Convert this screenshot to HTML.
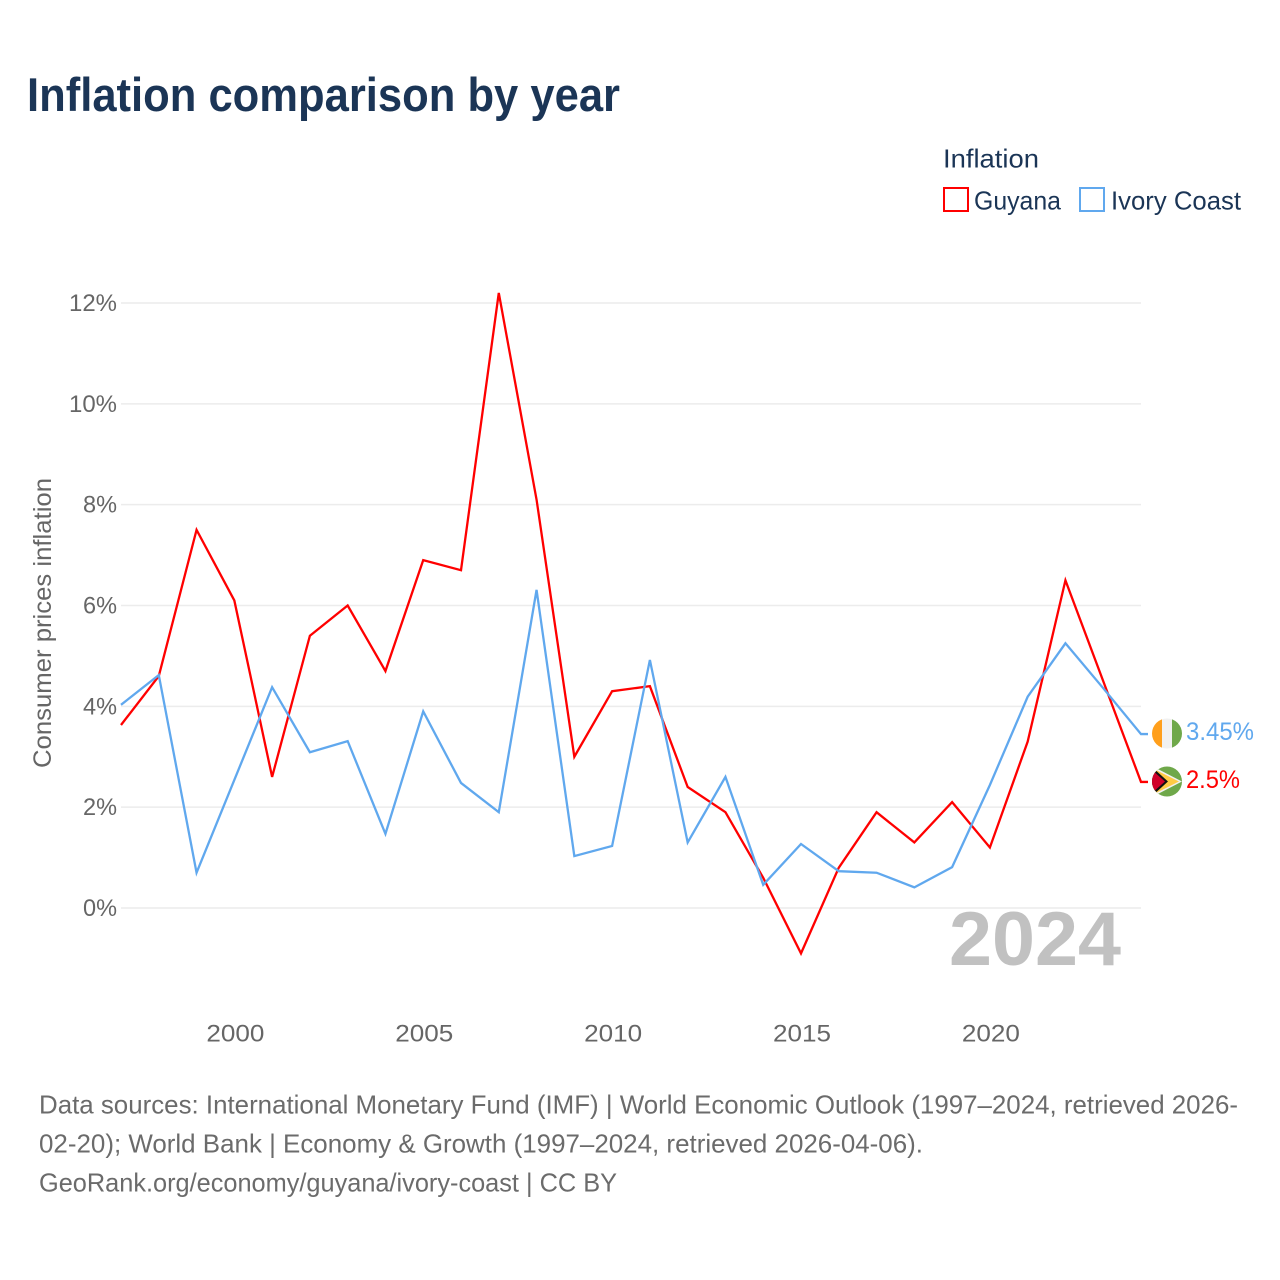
<!DOCTYPE html>
<html lang="en">
<head>
<meta charset="utf-8">
<title>Inflation comparison by year</title>
<style>
html,body{margin:0;padding:0;background:#fff;}
svg{display:block;font-family:"Liberation Sans",sans-serif;}
</style>
</head>
<body>
<svg id="chart" width="1280" height="1280" viewBox="0 0 1280 1280" xmlns="http://www.w3.org/2000/svg">
  <rect width="1280" height="1280" fill="#fff"/>
  <text x="27" y="111" font-size="47" font-weight="700" fill="#1b3556" textLength="593" lengthAdjust="spacingAndGlyphs">Inflation comparison by year</text>
  <text x="943" y="167.5" font-size="26" fill="#1b3556" textLength="96" lengthAdjust="spacingAndGlyphs">Inflation</text>
  <rect x="944" y="188" width="24" height="23" fill="none" stroke="#ff0000" stroke-width="2"/>
  <text x="974" y="209.5" font-size="26" fill="#1b3556" textLength="87" lengthAdjust="spacingAndGlyphs">Guyana</text>
  <rect x="1080" y="188" width="24" height="23" fill="none" stroke="#60a8ee" stroke-width="2"/>
  <text x="1111" y="209.5" font-size="26" fill="#1b3556" textLength="130" lengthAdjust="spacingAndGlyphs">Ivory Coast</text>
  <text transform="translate(51,768) rotate(-90)" x="0" y="0" font-size="25" fill="#666" textLength="290" lengthAdjust="spacingAndGlyphs">Consumer prices inflation</text>
  <g id="grid"></g>
  <g id="yticks"></g>
  <g id="xticks"></g>
  <text x="949" y="965" font-size="76" font-weight="700" fill="#c1c1c1" textLength="172" lengthAdjust="spacingAndGlyphs">2024</text>
  <g id="series"></g>
  <defs>
    <clipPath id="clip-ci"><circle cx="1167" cy="733.5" r="15"/></clipPath>
    <clipPath id="clip-gy"><circle cx="1167" cy="781.5" r="15"/></clipPath>
  </defs>
  <g clip-path="url(#clip-ci)">
    <rect x="1152" y="718" width="10" height="31" fill="#ff9f1c"/>
    <rect x="1162" y="718" width="10" height="31" fill="#f1f1f1"/>
    <rect x="1172" y="718" width="10" height="31" fill="#6fa84a"/>
  </g>
  <g clip-path="url(#clip-gy)">
    <rect x="1152" y="766" width="30" height="31" fill="#6fa84a"/>
    <polygon points="1152,766 1182,781.5 1152,797" fill="#f1f1f1"/>
    <polygon points="1152,768 1179,781.5 1152,795" fill="#ffcb45"/>
    <polygon points="1152,767 1168,781.5 1152,796" fill="#111"/>
    <polygon points="1152,770 1165,781.5 1152,793" fill="#d0002a"/>
  </g>
  <text x="1186" y="740" font-size="25" fill="#60a8ee" textLength="68" lengthAdjust="spacingAndGlyphs">3.45%</text>
  <text x="1186" y="788" font-size="25" fill="#ff0000" textLength="54" lengthAdjust="spacingAndGlyphs">2.5%</text>
  <text x="39" y="1113.5" font-size="26" fill="#6b6b6b" textLength="1199" lengthAdjust="spacingAndGlyphs">Data sources: International Monetary Fund (IMF) | World Economic Outlook (1997–2024, retrieved 2026-</text>
  <text x="39" y="1152.5" font-size="26" fill="#6b6b6b" textLength="884" lengthAdjust="spacingAndGlyphs">02-20); World Bank | Economy &amp; Growth (1997–2024, retrieved 2026-04-06).</text>
  <text x="39" y="1191.5" font-size="26" fill="#6b6b6b" textLength="578" lengthAdjust="spacingAndGlyphs">GeoRank.org/economy/guyana/ivory-coast | CC BY</text>
</svg>
<script>
const years = [1997,1998,1999,2000,2001,2002,2003,2004,2005,2006,2007,2008,2009,2010,2011,2012,2013,2014,2015,2016,2017,2018,2019,2020,2021,2022,2023,2024];
const guyana = [3.63,4.6,7.5,6.1,2.6,5.4,6.0,4.7,6.9,6.7,12.2,8.1,3.0,4.3,4.4,2.4,1.9,0.6,-0.9,0.8,1.9,1.3,2.1,1.2,3.3,6.5,4.5,2.5];
const ivoryCoast = [4.03,4.62,0.7,2.54,4.38,3.09,3.31,1.47,3.9,2.48,1.9,6.31,1.03,1.23,4.92,1.3,2.6,0.46,1.27,0.73,0.7,0.41,0.81,2.44,4.19,5.25,4.36,3.45];
const yTickValues = [0,2,4,6,8,10,12];
const xTickValues = [2000,2005,2010,2015,2020];

const NS = 'http://www.w3.org/2000/svg';
function xScale(year) { return 121 + (year - 1997) * (1020 / 27); }
function yScale(v) { return 908 - v * (605 / 12); }

const grid = document.getElementById('grid');
const yticks = document.getElementById('yticks');
const xticks = document.getElementById('xticks');
const seriesGroup = document.getElementById('series');

yTickValues.forEach(function (v) {
  const line = document.createElementNS(NS, 'line');
  
  
  line.setAttribute('x1', 121);
  line.setAttribute('x2', 1141);
  line.setAttribute('y1', yScale(v));
  line.setAttribute('y2', yScale(v));
  line.setAttribute('stroke', '#ececec');
  line.setAttribute('stroke-width', '1.5');
  grid.appendChild(line);

  const label = document.createElementNS(NS, 'text');
  
  
  label.setAttribute('x', 117);
  label.setAttribute('y', yScale(v) + 8);
  label.setAttribute('text-anchor', 'end');
  label.setAttribute('font-size', '24');
  label.setAttribute('fill', '#666');
  label.setAttribute('textLength', v >= 10 ? 48 : 34);
  label.setAttribute('lengthAdjust', 'spacingAndGlyphs');
  label.textContent = v + '%';
  yticks.appendChild(label);
});

xTickValues.forEach(function (y) {
  const label = document.createElementNS(NS, 'text');
  
  
  label.setAttribute('x', xScale(y) + 1);
  label.setAttribute('y', 1041.5);
  label.setAttribute('text-anchor', 'middle');
  label.setAttribute('font-size', '24');
  label.setAttribute('fill', '#666');
  label.setAttribute('textLength', 58);
  label.setAttribute('lengthAdjust', 'spacingAndGlyphs');
  label.textContent = y;
  xticks.appendChild(label);
});

function drawSeries(values, color, name) {
  let d = '';
  values.forEach(function (v, i) {
    d += (i ? 'L' : 'M') + xScale(years[i]).toFixed(2) + ' ' + yScale(v).toFixed(2);
  });
  d += 'H' + (xScale(years[years.length - 1]) + 7);
  const path = document.createElementNS(NS, 'path');
  
  
  path.setAttribute('d', d);
  path.setAttribute('fill', 'none');
  path.setAttribute('stroke', color);
  path.setAttribute('stroke-width', '2.3');
  seriesGroup.appendChild(path);
}
drawSeries(guyana, '#ff0000', 'guyana-line');
drawSeries(ivoryCoast, '#60a8ee', 'ivory-coast-line');
</script>
</body>
</html>
